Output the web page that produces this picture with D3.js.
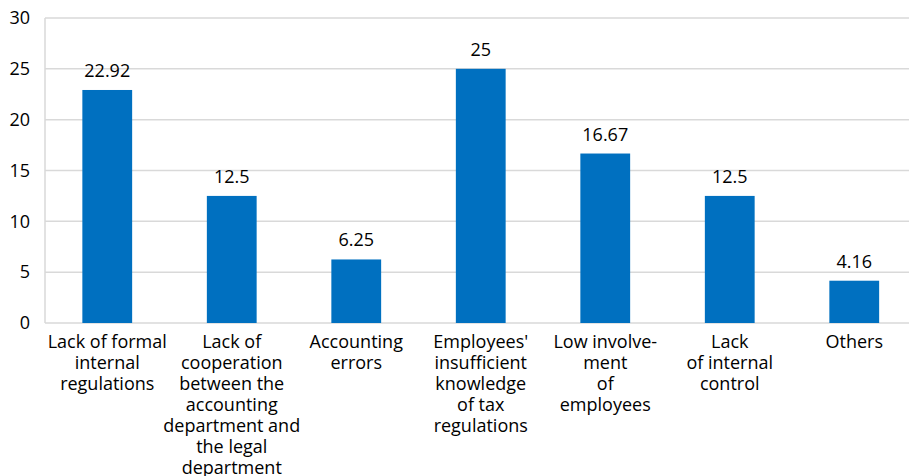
<!DOCTYPE html>
<html>
<head>
<meta charset="utf-8">
<script src="https://cdn.jsdelivr.net/npm/d3@7"></script>
<style>
  html, body { margin: 0; padding: 0; background: #fff; }
  svg text { font-family: "Open Sans", "Liberation Sans", sans-serif; fill: #000; }
</style>
</head>
<body>
<svg id="chart" width="909" height="476"></svg>
<script>
// Reasons for tax-related problems, share of responses (%)
const categories = [
  ["Lack of formal", "internal", "regulations"],
  ["Lack of", "cooperation", "between the", "accounting", "department and", "the legal", "department"],
  ["Accounting", "errors"],
  ["Employees'", "insufficient", "knowledge", "of tax", "regulations"],
  ["Low involve-", "ment", "of", "employees"],
  ["Lack", "of internal", "control"],
  ["Others"]
];
const values = [22.92, 12.5, 6.25, 25, 16.67, 12.5, 4.16];
const valueLabels = ["22.92", "12.5", "6.25", "25", "16.67", "12.5", "4.16"];
const yTicks = [0, 5, 10, 15, 20, 25, 30];

const svg = d3.select("#chart");
const plotLeft = 45, plotRight = 916.5, plotTop = 18, plotBottom = 323;
const fontSize = 18;

const x = d3.scaleBand()
  .domain(d3.range(categories.length))
  .range([plotLeft, plotRight])
  .paddingInner(0.6)
  .paddingOuter(0.3);

const y = d3.scaleLinear().domain([0, 30]).range([plotBottom, plotTop]);

// horizontal gridlines
svg.append("g").selectAll("line")
  .data(yTicks)
  .join("line")
  .attr("x1", plotLeft).attr("x2", 909)
  .attr("y1", d => y(d)).attr("y2", d => y(d))
  .attr("stroke", "#d9d9d9").attr("stroke-width", 1.5);

// left axis line
svg.append("line")
  .attr("x1", plotLeft).attr("x2", plotLeft)
  .attr("y1", plotTop).attr("y2", plotBottom)
  .attr("stroke", "#d9d9d9").attr("stroke-width", 1.5);

// y tick labels
svg.append("g").selectAll("text")
  .data(yTicks)
  .join("text")
  .attr("x", 30)
  .attr("y", d => y(d))
  .attr("dy", "0.35em")
  .attr("text-anchor", "end")
  .attr("font-size", fontSize)
  .text(d => d);

// bars
const bw = x.bandwidth();
svg.append("g").selectAll("rect")
  .data(values)
  .join("rect")
  .attr("x", (d, i) => x(i))
  .attr("y", d => y(d))
  .attr("width", bw)
  .attr("height", d => y(0) - y(d))
  .attr("fill", "#0070c0");

// value labels
svg.append("g").selectAll("text")
  .data(values)
  .join("text")
  .attr("x", (d, i) => x(i) + bw / 2)
  .attr("y", d => y(d) - 13)
  .attr("text-anchor", "middle")
  .attr("font-size", fontSize)
  .text((d, i) => valueLabels[i]);

// category labels
const cat = svg.append("g").selectAll("text")
  .data(categories)
  .join("text")
  .attr("text-anchor", "middle")
  .attr("font-size", fontSize)
  .attr("x", (d, i) => x(i) + bw / 2)
  .attr("y", 348);
cat.selectAll("tspan")
  .data(d => d)
  .join("tspan")
  .attr("x", function() { return this.parentNode.getAttribute("x"); })
  .attr("dy", (d, j) => j === 0 ? 0 : 21)
  .text(d => d);
</script>
</body>
</html>
